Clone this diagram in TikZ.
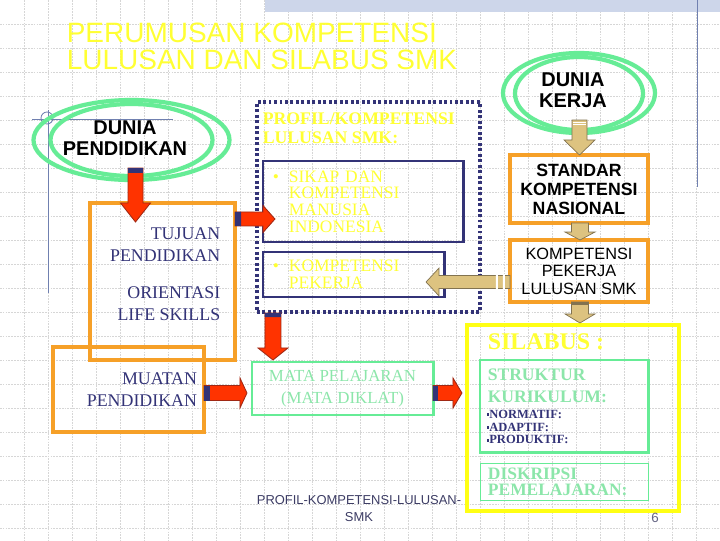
\documentclass[tikz,border=0pt]{standalone}
\usepackage{fontspec}
\setmainfont{Liberation Serif}
\setsansfont{Liberation Sans}
\usepackage{tikz}
\usetikzlibrary{calc,positioning}
\definecolor{SlideNavy}{RGB}{51,51,119}
\definecolor{SlideOrange}{RGB}{246,160,40}
\definecolor{SlideGreen}{RGB}{102,236,150}
\definecolor{SlideMint}{RGB}{140,230,170}
\definecolor{SlideYellow}{RGB}{255,255,20}
\definecolor{SlideLemon}{RGB}{255,255,51}
\definecolor{SlideRed}{RGB}{255,51,0}
\definecolor{SlideRedEdge}{RGB}{160,40,20}
\definecolor{SlideTan}{RGB}{221,195,128}
\definecolor{SlideTanEdge}{RGB}{130,115,80}
\definecolor{SlideGrid}{gray}{0.84}
\definecolor{SlideBand}{RGB}{205,214,234}
\definecolor{SlideRule}{RGB}{112,128,176}
\definecolor{SlideFoot}{RGB}{60,60,100}
% block arrow between two points: [style]{from}{to}{shaft half}{head half}{head length}{tail marks}
\newcommand{\blockarrow}[7][]{%
    \path let \p1=(#2), \p2=(#3) in \pgfextra{%
        \pgfmathsetmacro\arrowAng{atan2(\y2-\y1,\x2-\x1)}%
        \pgfmathsetmacro\arrowLen{veclen(\x2-\x1,\y2-\y1)/0.71132}%
        \xdef\arrowAng{\arrowAng}\xdef\arrowLen{\arrowLen}%
        \xdef\arrowX{\x1}\xdef\arrowY{\y1}};
    \begin{scope}[shift={(\arrowX,\arrowY)}, rotate=\arrowAng, x=0.025cm, y=0.025cm]
        \draw[#1] (0,-#4) -- ({\arrowLen-#6},-#4) -- ({\arrowLen-#6},-#5)
            -- (\arrowLen,0) -- ({\arrowLen-#6},#5) -- ({\arrowLen-#6},#4)
            -- (0,#4) -- cycle;
        #7
    \end{scope}}
\tikzset{
    slide/diagram/.style={
        x=0.025cm, y=-0.025cm,
        every node/.style={inner sep=2pt, outer sep=0pt}
    },
    slide/grid/.style={draw=SlideGrid, line width=0.5pt, dash pattern=on 1.2pt off 0.8pt},
    slide/rule/.style={draw=SlideRule, line width=0.6pt},
    slide/ring/.style={draw=SlideGreen, line width=3pt},
    slide/heading/.style={
        anchor=north west, align=left, text=SlideLemon,
        font=\sffamily\fontsize{19.9}{19.4}\selectfont
    },
    slide/world/.style={
        align=center, text=black,
        font=\sffamily\bfseries\fontsize{14.2}{14.9}\selectfont
    },
    slide/orangebox/.style={draw=SlideOrange, line width=2.5pt, inner sep=0pt},
    slide/navybox/.style={draw=SlideNavy, line width=2.1pt, inner sep=0pt},
    slide/dotbox/.style={
        draw=SlideNavy, line width=2.6pt,
        dash pattern=on 2.1pt off 1.8pt, inner sep=0pt
    },
    slide/greenbox/.style={draw=SlideGreen, line width=2.1pt, inner sep=0pt},
    slide/thinbox/.style={draw=SlideGreen, line width=0.7pt, inner sep=0pt},
    slide/silabus/.style={draw=SlideYellow, line width=2.8pt, inner sep=0pt},
    slide/navytext/.style={text=SlideNavy, font=\fontsize{12.7}{15.3}\selectfont},
    slide/lemontext/.style={text=SlideLemon, font=\fontsize{12.4}{11.9}\selectfont},
    slide/minttext/.style={text=SlideMint, font=\bfseries\fontsize{12.5}{15.6}\selectfont},
    slide/redarrow/.style={fill=SlideRed, draw=SlideRedEdge, line width=0.6pt},
    slide/tanarrow/.style={fill=SlideTan, draw=SlideTanEdge, line width=0.5pt}
}
\begin{document}
\begin{tikzpicture}[slide/diagram]
    \useasboundingbox (0,0) rectangle (720,540);
    \fill[white] (0,0) rectangle (720,540);
    % background grid and slide decoration
    \foreach \gx in {24,48,...,720}
        \draw[slide/grid] (\gx,0) -- (\gx,540);
    \foreach \gy in {24,48,...,528}
        \draw[slide/grid] (0,\gy) -- (720,\gy);
    \fill[SlideBand] (265,0) rectangle (720,12);
    \draw[slide/rule] (697,0) -- (697,187);
    \draw[slide/rule] (32,119) -- (173,119);
    \draw[slide/rule] (48,110) -- (48,293);
    \draw[slide/rule] (47,118) circle [radius=6];

    \node[slide/heading] (title) at (64,20)
        {PERUMUSAN KOMPETENSI\\LULUSAN DAN SILABUS SMK};

    % the two worlds
    \node[slide/world] (dp) at (125,138) {DUNIA\\PENDIDIKAN};
    \draw[slide/ring] ($(dp)+(6.5,2)$) ellipse [x radius=98, y radius=40];
    \draw[slide/ring] ($(dp)+(6.5,2)$) ellipse [x radius=81, y radius=36];
    \node[slide/world] (dk) at (573,90) {DUNIA\\KERJA};
    \draw[slide/ring] ($(dk)+(6,3)$) ellipse [x radius=76, y radius=40];
    \draw[slide/ring] ($(dk)+(6,3.5)$) ellipse [x radius=64, y radius=36.5];

    % education side
    \node[slide/orangebox, minimum width=3.625cm, minimum height=3.925cm]
        (tj) at (162.5,281.5) {};
    \node[slide/navytext, anchor=north east, align=right] (tjtext)
        at ($(tj.north east)+(-12,22)$)
        {TUJUAN\\PENDIDIKAN\\[11.4pt]ORIENTASI\\LIFE SKILLS};
    \node[slide/orangebox, slide/navytext, minimum width=3.775cm,
        minimum height=2.125cm, inner xsep=0.175cm, text width=3.425cm,
        align=right, font=\fontsize{12.7}{15.6}\selectfont]
        (mu) at (128.5,389.5) {MUATAN\\PENDIDIKAN};

    % profile of graduates
    \node[slide/dotbox, minimum width=5.575cm, minimum height=5.25cm]
        (prof) at (368.5,207) {};
    \node[anchor=north west, align=left, text=SlideLemon,
        font=\bfseries\fontsize{12.6}{13.5}\selectfont]
        (proftext) at (260,110) {PROFIL/KOMPETENSI\\LULUSAN SMK:};
    \node[slide/navybox, slide/lemontext, minimum width=5cm,
        minimum height=2.025cm, inner xsep=0.25cm, text width=4.5cm, align=left]
        (sikap) at (363,201.5)
        {\makebox[0.4cm][l]{\textbullet}SIKAP DAN\\\hspace*{0.4cm}KOMPETENSI\\
         \hspace*{0.4cm}MANUSIA\\\hspace*{0.4cm}INDONESIA};
    \node[slide/navybox, slide/lemontext, minimum width=4.525cm,
        minimum height=1.125cm, inner xsep=0.25cm, text width=4.025cm, align=left]
        (pek) at (353.5,274.5)
        {\makebox[0.4cm][l]{\textbullet}KOMPETENSI\\\hspace*{0.4cm}PEKERJA};
    \node[slide/greenbox, text=SlideMint, minimum width=4.525cm,
        minimum height=1.325cm, align=center,
        font=\fontsize{12}{15.6}\selectfont]
        (mp) at (342.5,388.5) {MATA PELAJARAN\\(MATA DIKLAT)};
    \node[text=SlideFoot, align=center, anchor=north,
        font=\sffamily\fontsize{9.2}{12.1}\selectfont]
        (foot) at (359,493) {PROFIL-KOMPETENSI-LULUSAN-\\SMK};

    % world of work
    \node[slide/orangebox, minimum width=3.45cm, minimum height=1.7cm,
        align=center, font=\sffamily\bfseries\fontsize{12.6}{13.5}\selectfont]
        (sk) at (579,189) {STANDAR\\KOMPETENSI\\NASIONAL};
    \node[slide/orangebox, minimum width=3.45cm, minimum height=1.55cm,
        align=center, font=\sffamily\fontsize{11.6}{12.4}\selectfont,
        below=0.425cm of sk]
        (kp) {KOMPETENSI\\PEKERJA\\LULUSAN SMK};

    % syllabus
    \node[slide/silabus, minimum width=5.3cm, minimum height=4.65cm]
        (sil) at (573,418) {};
    \node[anchor=north west, text=SlideLemon,
        font=\bfseries\fontsize{17}{18}\selectfont]
        (siltext) at ($(sil.north west)+(18,6)$) {SILABUS :};
    \node[slide/greenbox, minimum width=4.2cm, minimum height=2.3cm]
        (stk) at (564,406) {};
    \node[slide/minttext, anchor=north west, align=left]
        (stktext) at ($(stk.north west)+(5,6)$) {STRUKTUR\\KURIKULUM:};
    \node[anchor=north west, align=left, text=SlideNavy,
        font=\bfseries\fontsize{8.9}{9.2}\selectfont]
        (stklist) at ($(stk.north west)+(4,47)$)
        {\rule[1.6pt]{1.8pt}{1.8pt}NORMATIF:\\\rule[1.6pt]{1.8pt}{1.8pt}ADAPTIF:\\
         \rule[1.6pt]{1.8pt}{1.8pt}PRODUKTIF:};
    \node[slide/thinbox, text=SlideMint, minimum width=4.175cm,
        minimum height=0.925cm, inner xsep=0.175cm, text width=3.825cm,
        align=left, font=\bfseries\fontsize{12.4}{11.4}\selectfont]
        (dsk) at (564.5,481.5) {DISKRIPSI\\PEMELAJARAN:};

    \node[text=SlideFoot!80, anchor=north, font=\sffamily\fontsize{9.5}{11}\selectfont]
        (page) at (655,510) {6};

    % red arrows
    \blockarrow[slide/redarrow]{$(dp)+(10.5,30)$}{$(tj.north)+(-27,19)$}
        {7.5}{15}{19}{\fill[SlideNavy] (0,-7.5) rectangle (5,7.5);}
    \blockarrow[slide/redarrow]{$(tj.north east)+(0,16)$}{$(sikap.south west)+(12,-23)$}
        {7}{13.5}{12}{\fill[SlideNavy] (0,-7) rectangle (6,7);}
    \blockarrow[slide/redarrow]{$(prof.south west)+(16,1)$}{$(mp.north west)+(21,-2)$}
        {8}{15}{12}{\fill[SlideNavy] (0,-8) rectangle (4,8);}
    \blockarrow[slide/redarrow]{$(mu.east)+(0,3.5)$}{$(mp.west)+(-5,4.5)$}
        {7.5}{15}{7}{\fill[SlideNavy] (0,-7.5) rectangle (6,7.5);}
    \blockarrow[slide/redarrow]{$(mp.east)+(0,4.5)$}{$(sil.west)+(-5,-25)$}
        {7.5}{15}{9}{\fill[SlideNavy] (0,-7.5) rectangle (5,7.5);}

    % tan arrows
    \blockarrow[slide/tanarrow]{$(dk)+(6.5,30)$}{$(sk.north)+(0.5,0)$}
        {7.5}{15.5}{15}{\draw[white, line width=0.6pt] (2,-6.5) -- (2,6.5) (4.5,-6.5) -- (4.5,6.5);}
    \blockarrow[slide/tanarrow]{$(sk.south)+(1,0)$}{$(kp.north)+(1,0)$}
        {8.5}{15}{8}{}
    \blockarrow[slide/tanarrow]{$(kp.west)+(0,11)$}{$(pek.east)+(-18,7.5)$}
        {6.5}{14}{13}{\fill[white] (5,-7.2) rectangle (7,7.2) (12,-7.2) rectangle (14,7.2);}
    \blockarrow[slide/tanarrow]{$(kp.south)+(1,0)$}{$(sil.north)+(7,-2)$}
        {8.5}{15}{9}{\fill[SlideTanEdge] (0,-8.5) rectangle (3,8.5);}
\end{tikzpicture}
\end{document}
